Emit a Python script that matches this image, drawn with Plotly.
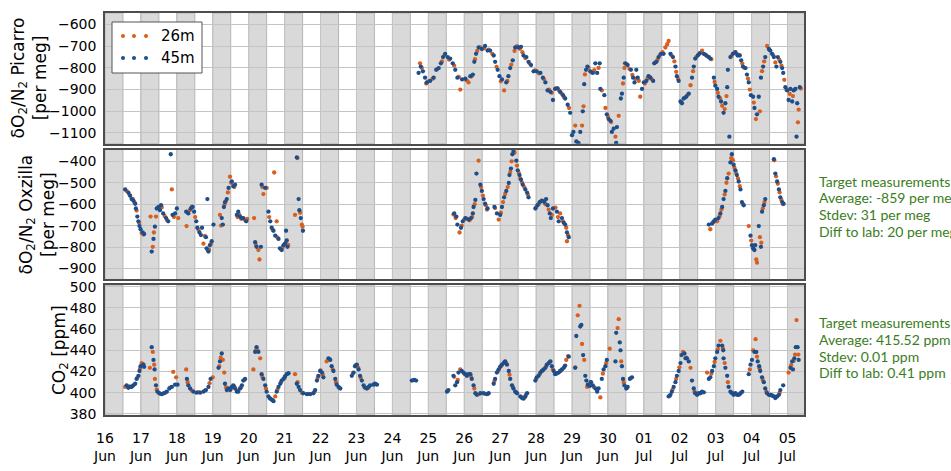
import pandas as pd
import plotly.graph_objects as go
from plotly.subplots import make_subplots

START = pd.Timestamp("2017-06-16")

# ---------------- tick labels ----------------
day_labels = ["16", "17", "18", "19", "20", "21", "22", "23", "24", "25", "26", "27", "28", "29", "30",
              "01", "02", "03", "04", "05"]
month_labels = ["Jun"] * 15 + ["Jul"] * 5

# ---------------- data (time in days since 16 Jun 00:00) ----------------
# Panel 1: dO2/N2 Picarro [per meg]
pic45_t = [8.73, 8.79, 8.85, 8.91, 8.96, 9.05, 9.15, 9.22, 9.29, 9.35, 9.41, 9.47, 9.54, 9.61, 9.68, 9.75, 9.81,
           9.94, 10.03, 10.17, 10.24, 10.28, 10.33, 10.40, 10.49, 10.58, 10.65, 10.72, 10.82, 10.86, 10.93, 10.98,
           11.05, 11.17, 11.23, 11.28, 11.35, 11.42, 11.51, 11.58, 11.65, 11.73, 11.79, 11.86, 11.93, 12.02, 12.12,
           12.19, 12.26, 12.32, 12.40, 12.47, 12.53, 12.60, 12.67, 12.75, 12.81, 12.88, 12.95, 13.00, 13.04, 13.12,
           13.18, 13.23, 13.30, 13.34, 13.39, 13.43, 13.51, 13.58, 13.65, 13.70, 13.77, 13.79, 13.90, 13.97, 14.02,
           14.07, 14.11, 14.16, 14.23, 14.25, 14.36, 14.39, 14.44, 14.48, 14.55, 14.64, 14.70, 14.74, 14.79, 14.83,
           14.95, 15.00, 15.07, 15.13, 15.18, 15.26, 15.29, 15.35, 15.41, 15.48, 15.55, 15.74, 15.81, 15.88, 15.92,
           15.97, 16.02, 16.06, 16.11, 16.18, 16.25, 16.34, 16.39, 16.43, 16.50, 16.56, 16.67, 16.74, 16.81, 16.85,
           16.95, 16.99, 17.04, 17.08, 17.15, 17.22, 17.27, 17.32, 17.34, 17.38, 17.41, 17.48, 17.55, 17.61, 17.67,
           17.71, 17.76, 17.83, 17.87, 17.92, 17.98, 18.04, 18.08, 18.15, 18.20, 18.26, 18.32, 18.38, 18.48, 18.52,
           18.57, 18.62, 18.69, 18.73, 18.80, 18.85, 18.88, 18.94, 18.99, 19.03, 19.08, 19.13, 19.17, 19.22, 19.25,
           19.27, 19.34]
pic45_v = [-823, -794, -816, -845, -867, -860, -845, -809, -801, -779, -750, -735, -750, -757, -779, -809, -845,
           -853, -850, -838, -831, -772, -735, -706, -713, -699, -720, -720, -743, -772, -809, -838,
           -853, -867, -838, -801, -765, -706, -706, -703, -743, -750, -772, -787, -816, -816, -823,
           -845, -867, -904, -911, -948, -897, -894, -911, -926, -941, -970, -1007, -1110, -1095, -1139,
           -1146, -1095, -1000, -875, -809, -794, -816, -823, -779, -823, -779, -897, -926, -1014, -1036,
           -1044, -1095, -1080, -1146, -1073, -941, -919, -845, -779, -787, -809, -845, -867, -809, -845,
           -897, -867, -860, -838, -845, -860, -779, -772, -750, -735, -735, -735, -750, -794, -838,
           -860, -955, -963, -941, -933, -919, -845, -794, -757, -743, -732, -735, -743, -750, -757,
           -845, -882, -897, -933, -955, -1007, -963, -889, -809, -1117, -750, -735, -728, -743, -743,
           -765, -794, -801, -831, -867, -926, -933, -985, -1014, -933, -845, -794, -750, -713, -720,
           -735, -750, -794, -750, -772, -801, -823, -889, -904, -948, -897, -955, -904, -897, -1117,
           -963, -889]

pic26_t = [8.77, 8.82, 8.94, 9.00, 9.12, 9.25, 9.38, 9.45, 9.58, 9.72, 9.85, 9.89, 10.07, 10.12, 10.20, 10.30,
           10.36, 10.45, 10.55, 10.68, 10.78, 10.90, 11.02, 11.11, 11.20, 11.31, 11.40, 11.47, 11.55, 11.62, 11.70,
           11.82, 11.97, 12.08, 12.22, 12.36, 12.44, 12.56, 12.64, 12.71, 12.78, 12.92, 13.09, 13.28, 13.32, 13.36,
           13.46, 13.54, 13.62, 13.74, 13.83, 13.93, 14.00, 14.09, 14.21, 14.30, 14.42, 14.46, 14.52, 14.60, 14.68,
           14.77, 14.86, 14.90, 15.03, 15.10, 15.16, 15.22, 15.32, 15.38, 15.45, 15.52, 15.60, 15.65, 15.69, 15.77,
           15.85, 15.90, 15.95, 16.04, 16.14, 16.21, 16.30, 16.37, 16.46, 16.53, 16.62, 16.70, 16.78, 16.88, 16.97,
           17.06, 17.12, 17.18, 17.25, 17.30, 17.44, 17.52, 17.58, 17.64, 17.74, 17.80, 17.90, 17.95, 18.06, 18.12,
           18.23, 18.29, 18.35, 18.43, 18.50, 18.60, 18.66, 18.77, 18.83, 18.91, 18.97, 19.06, 19.15, 19.20, 19.29,
           19.31, 19.37]
pic26_v = [-779, -800, -872, -862, -850, -805, -770, -742, -762, -790, -842, -900, -858, -867, -840, -760,
           -722, -705, -710, -716, -735, -795, -862, -904, -860, -785, -722, -700, -712, -728, -755,
           -780, -812, -825, -852, -900, -915, -893, -905, -918, -935, -985, -1066, -1066, -977, -830,
           -800, -820, -810, -800, -904, -985, -1025, -1050, -1117, -1021, -872, -800, -782, -805, -832,
           -850, -860, -933, -872, -850, -842, -852, -775, -762, -740, -728, -706, -691, -676, -742,
           -770, -818, -850, -958, -938, -926, -880, -815, -750, -738, -720, -738, -748, -760, -865,
           -915, -940, -975, -990, -930, -745, -730, -735, -740, -780, -800, -850, -900, -960, -1036,
           -1000, -815, -770, -699, -718, -742, -775, -762, -790, -855, -900, -920, -930, -900, -1051,
           -992, -895]

# Panel 2: dO2/N2 Oxzilla [per meg]
oxz45_t = [0.56, 0.65, 0.70, 0.74, 0.79, 0.84, 0.86, 0.90, 0.93, 0.96, 0.99, 1.05, 1.09, 1.30, 1.35, 1.39, 1.44,
           1.49, 1.53, 1.56, 1.62, 1.70, 1.76, 1.83, 1.88, 1.95, 2.00, 2.26, 2.32, 2.39, 2.44, 2.48, 2.54, 2.57,
           2.63, 2.67, 2.70, 2.81, 2.83, 2.85, 2.88, 2.92, 2.97, 3.02, 3.25, 3.28, 3.31, 3.34, 3.39, 3.44, 3.53,
           3.57, 3.62, 3.67, 3.71, 3.76, 3.81, 3.85, 3.93, 4.18, 4.22, 4.34, 4.36, 4.46, 4.55, 4.60, 4.64, 4.69,
           4.74, 4.83, 4.87, 4.92, 4.97, 5.01, 5.04, 5.06, 5.08, 5.34, 5.39, 5.41, 5.45, 5.51,
           9.72, 9.78, 9.81, 9.91, 9.96, 10.03, 10.12, 10.19, 10.24, 10.26, 10.31, 10.34, 10.45, 10.49, 10.54,
           10.58, 10.65, 10.84, 10.91, 11.00, 11.05, 11.11, 11.17, 11.24, 11.26, 11.30, 11.34, 11.37, 11.45,
           11.49, 11.54, 11.58, 11.63, 11.70, 11.75, 11.79, 11.98, 12.04, 12.10, 12.16, 12.23, 12.28, 12.32,
           12.38, 12.41, 12.47, 12.58, 12.63, 12.72, 12.77, 12.81, 12.86, 12.91,
           16.81, 16.90, 16.95, 16.99, 17.08, 17.13, 17.18, 17.22, 17.27, 17.32, 17.41, 17.45, 17.50, 17.55,
           17.59, 17.64, 17.69, 17.73, 17.78, 17.97, 18.01, 18.04, 18.08, 18.10, 18.20, 18.26, 18.29, 18.34,
           18.38, 18.62, 18.66, 18.71, 18.76, 18.80, 18.85, 18.89]
oxz45_v = [-531, -546, -561, -576, -583, -598, -620, -658, -680, -702, -717, -732, -739, -821, -762, -705, -620,
           -613, -628, -605, -643, -665, -680, -367, -650, -643, -620, -635, -643, -620, -613, -635, -680, -710,
           -732, -744, -710, -754, -806, -576, -821, -791, -773, -695, -665, -695, -613, -590, -576, -524, -494,
           -516, -509, -650, -635, -658, -665, -665, -680, -777, -799, -799, -509, -524, -635, -680, -710, -724,
           -747, -762, -806, -814, -791, -784, -724, -769, -799, -382, -576, -628, -665, -724,
           -643, -658, -695, -710, -680, -665, -672, -665, -643, -613, -580, -457, -509, -538, -576,
           -598, -620, -613, -643, -650, -613, -568, -538, -501, -464, -434, -367, -352, -397,
           -442, -464, -486, -509, -531, -546, -568, -620, -605, -590, -583, -590, -576, -605,
           -643, -665, -620, -635, -680, -665, -687, -695, -732, -754,
           -695, -690, -680, -672, -665, -643, -613, -576, -538, -479, -405, -367, -416, -442,
           -464, -494, -531, -590, -605, -747, -791, -806, -814, -791, -702, -799, -635, -605,
           -576, -390, -457, -494, -531, -568, -590, -598]

oxz26_t = [0.60, 0.68, 0.77, 0.82, 0.88, 0.95, 1.02, 1.07, 1.27, 1.33, 1.36, 1.42, 1.51, 1.58, 1.66, 1.73, 1.86,
           1.92, 2.04, 2.27, 2.30, 2.36, 2.42, 2.51, 2.60, 2.74, 2.78, 2.86, 2.90, 2.95, 3.20, 3.23, 3.33, 3.37,
           3.42, 3.48, 3.51, 3.60, 3.69, 3.74, 3.79, 3.88, 3.96, 4.15, 4.20, 4.27, 4.30, 4.38, 4.41, 4.50, 4.57,
           4.67, 4.71, 4.78, 4.80, 4.90, 4.95, 5.03, 5.10, 5.29, 5.36, 5.43, 5.48, 5.50,
           9.70, 9.76, 9.87, 9.93, 10.00, 10.08, 10.15, 10.22, 10.29, 10.40, 10.47, 10.52, 10.60, 10.63, 10.86,
           10.96, 11.02, 11.08, 11.14, 11.21, 11.28, 11.32, 11.40, 11.47, 11.52, 11.56, 11.61, 11.67, 11.77,
           12.00, 12.07, 12.13, 12.20, 12.26, 12.35, 12.44, 12.54, 12.61, 12.67, 12.75, 12.84, 12.86, 12.89,
           16.85, 16.93, 17.04, 17.11, 17.16, 17.25, 17.30, 17.36, 17.43, 17.48, 17.52, 17.57, 17.62, 17.67,
           17.75, 17.92, 17.99, 18.06, 18.13, 18.15, 18.23, 18.27, 18.31, 18.36, 18.63, 18.68, 18.73, 18.78,
           18.83, 18.87]
oxz26_v = [-538, -555, -575, -592, -630, -688, -735, -742, -658, -799, -732, -658, -618, -615, -655, -675, -531,
           -660, -665, -702, -640, -628, -612, -660, -720, -784, -748, -815, -812, -785, -650, -700, -600, -585,
           -545, -472, -500, -520, -660, -650, -668, -672, -669, -665, -790, -814, -858, -520, -553, -524, -660,
           -720, -452, -680, -755, -810, -800, -780, -790, -650, -385, -640, -695, -705,
           -648, -665, -732, -700, -672, -668, -675, -660, -600, -397, -520, -560, -605, -625, -618,
           -672, -640, -590, -552, -520, -450, -400, -360, -420, -455, -480, -500, -520, -555,
           -615, -600, -588, -585, -600, -625, -650, -616, -660, -643, -680, -710, -773, -745,
           -717, -685, -680, -655, -625, -555, -500, -457, -385, -395, -430, -455, -480, -516,
           -598, -702, -770, -810, -858, -873, -754, -780, -620, -590, -395, -470, -505, -545,
           -580, -600]

# Panel 3: CO2 [ppm]
co45_t = [0.60, 0.65, 0.70, 0.74, 0.79, 0.84, 0.88, 0.93, 0.96, 0.99, 1.07, 1.09, 1.30, 1.35, 1.38, 1.42, 1.46,
          1.51, 1.58, 1.64, 1.72, 1.79, 1.86, 1.95, 2.02, 2.28, 2.32, 2.37, 2.46, 2.55, 2.65, 2.74, 2.81, 2.88,
          2.94, 3.16, 3.20, 3.25, 3.34, 3.39, 3.44, 3.48, 3.53, 3.57, 3.62, 3.67, 3.71, 3.76, 3.81, 3.85, 3.90,
          4.18, 4.22, 4.27, 4.36, 4.41, 4.46, 4.50, 4.55, 4.60, 4.64, 4.69, 4.78, 4.83, 4.88, 4.92, 4.97, 5.01,
          5.06, 5.11, 5.34, 5.39, 5.43, 5.52, 5.62, 5.71, 5.80, 5.85, 5.90, 5.94, 5.99, 6.04, 6.08, 6.22, 6.27,
          6.31, 6.36, 6.41, 6.45, 6.50, 6.55, 6.87, 6.92, 6.96, 7.01, 7.06, 7.10, 7.15, 7.20, 7.24, 7.29, 7.34,
          7.38, 7.47, 7.52, 7.57, 8.54, 8.61, 8.66, 9.52, 9.56, 9.70, 9.75, 9.80, 9.84, 9.93, 9.98, 10.03, 10.07,
          10.12, 10.17, 10.21, 10.26, 10.31, 10.35, 10.45, 10.54, 10.63, 10.68, 10.82, 10.86, 10.91, 10.96,
          11.00, 11.05, 11.10, 11.14, 11.19, 11.24, 11.28, 11.33, 11.37, 11.42, 11.47, 11.56, 11.61, 11.65,
          11.70, 11.75, 11.98, 12.02, 12.07, 12.12, 12.16, 12.21, 12.26, 12.30, 12.35, 12.40, 12.44, 12.49,
          12.53, 12.58, 12.63, 12.67, 12.72, 12.77, 12.81, 12.91, 13.09, 13.12, 13.23, 13.26, 13.31, 13.37,
          13.40, 13.44, 13.49, 13.53, 13.58, 13.65, 13.70, 13.74, 13.83, 13.88, 13.93, 13.97, 14.21, 14.23,
          14.33, 14.35, 14.39, 14.42, 14.46, 14.51, 14.55, 14.61, 14.67, 15.69, 15.74, 15.78, 15.83, 15.88,
          15.92, 15.97, 16.02, 16.05, 16.13, 16.16, 16.20, 16.25, 16.34, 16.39, 16.43, 16.48, 16.53, 16.57,
          16.62, 16.67, 16.81, 16.85, 16.90, 16.95, 16.99, 17.04, 17.08, 17.18, 17.21, 17.22, 17.27, 17.32,
          17.36, 17.41, 17.46, 17.50, 17.55, 17.60, 17.64, 17.69, 17.74, 17.92, 17.97, 18.01, 18.08, 18.13,
          18.17, 18.21, 18.24, 18.29, 18.34, 18.38, 18.43, 18.48, 18.52, 18.57, 18.62, 18.66, 18.71, 18.76,
          18.80, 18.88, 19.08, 19.13, 19.15, 19.19, 19.23, 19.28, 19.31]
co45_v = [407, 404.6, 405.5, 405.5, 407, 408.5, 413, 416, 420.5, 425, 426.5, 424.4, 443, 431, 422, 407, 401,
          399.5, 398.6, 399.5, 401, 404, 405.5, 407.6, 407.6, 413, 407, 404, 401, 400.1, 400.1, 401, 402.5, 405.5,
          413, 423.5, 429.5, 437, 408.5, 402.5, 404, 402.5, 405.5, 407, 404, 401, 401, 404, 407, 411.5, 413,
          438.5, 443, 438.5, 417.5, 413, 407, 401, 396.5, 394.4, 393.5, 392, 401, 405.5, 408.5, 411.5, 413, 415.4,
          417.5, 418.4, 408.5, 405.5, 402.5, 399.5, 398.6, 398.6, 399.5, 402.5, 411.5, 416, 420.5, 419, 414.5, 432.5, 431,
          425, 420.5, 413, 407.6, 405.5, 404, 416, 419, 425, 426.5, 422, 416, 411.5, 407, 404.6, 404, 405.5,
          407, 407.6, 408.5, 407.6, 411.5, 412.1, 411.5, 401, 402.5, 416, 407, 410, 419, 420.5, 419, 417.5, 416,
          417.5, 417.5, 413, 407, 399.5, 398, 399.5, 399.5, 398.6, 399.5, 408.5, 413, 419, 422,
          424.4, 426.5, 428, 429.5, 426.5, 420.5, 413, 407, 404, 401, 399.5, 396.5, 395, 394.4,
          396.5, 399.5, 411.5, 414.5, 416, 419, 420.5, 422, 423.5, 426.5, 428, 429.5, 425, 420.5,
          417.5, 418.4, 419, 420.5, 422, 423.5, 425.6, 434, 423.5, 453.5, 462.5, 464, 435.5, 416,
          411.5, 407.6, 406.4, 410, 407, 404, 401, 404, 413, 422, 425, 431, 429.5, 456.5,
          447.5, 440, 425, 413, 407, 404, 405.5, 413, 414.5, 396.5, 398, 401, 405.5, 410,
          416, 420.5, 428, 435.5, 437, 432.5, 432.5, 429.5, 411.5, 404, 399.5, 398, 399.5, 399.5,
          401, 400.4, 413, 414.5, 420.5, 425, 432.5, 438.5, 444.5, 444.5, 440, 432.5, 423.5, 416,
          405.5, 401, 399.5, 398, 399.5, 398, 398, 399.5, 401, 417.5, 426.5, 431, 438.5, 438.5,
          429.5, 425, 420.5, 414.5, 410, 404, 399.5, 398, 398, 397.4, 396.5, 395, 396.5, 398,
          402.5, 407, 423.5, 429.5, 422, 432.5, 443, 443, 431]

co26_t = [0.56, 0.67, 0.77, 0.90, 0.98, 1.02, 1.05, 1.25, 1.33, 1.37, 1.39, 1.44, 1.54, 1.68, 1.82, 1.90, 1.98,
          2.26, 2.30, 2.42, 2.60, 2.78, 2.91, 3.00, 3.18, 3.22, 3.28, 3.32, 3.37, 3.50, 3.60, 3.69, 3.79, 3.88,
          4.13, 4.20, 4.25, 4.32, 4.38, 4.48, 4.58, 4.67, 4.74, 4.80, 4.90, 5.00, 5.08, 5.29, 5.36, 5.48, 5.66,
          5.83, 5.92, 6.00, 6.06, 6.17, 6.25, 6.34, 6.43, 6.52, 6.90, 6.98, 7.04, 7.12, 7.22, 7.32, 7.50, 8.58,
          9.54, 9.72, 9.82, 9.89, 10.00, 10.10, 10.19, 10.28, 10.40, 10.58, 10.66, 10.84, 10.94, 11.02, 11.12,
          11.17, 11.26, 11.35, 11.44, 11.58, 11.68, 11.72, 12.00, 12.10, 12.19, 12.28, 12.38, 12.47, 12.56,
          12.70, 12.79, 12.84, 12.89, 13.09, 13.16, 13.21, 13.28, 13.34, 13.42, 13.51, 13.60, 13.79, 13.86,
          13.95, 14.05, 14.27, 14.30, 14.37, 14.44, 14.53, 14.64, 15.72, 15.80, 15.90, 15.99, 16.09, 16.18,
          16.30, 16.41, 16.50, 16.60, 16.76, 16.88, 16.97, 17.06, 17.13, 17.20, 17.25, 17.34, 17.44, 17.57,
          17.67, 17.95, 18.04, 18.11, 18.15, 18.22, 18.31, 18.41, 18.55, 18.68, 18.78, 19.03, 19.10, 19.17,
          19.21, 19.25, 19.30]
co26_v = [405.5, 406, 406.5, 414, 423, 428, 427, 423.5, 438.5, 426.5, 413, 403, 399, 400, 405, 419.6, 414.5,
          422, 410, 402, 400.5, 402, 409, 414.5, 425, 433, 431, 419, 405, 403, 406, 402, 405, 412,
          422, 440, 440, 432.5, 415, 404, 395, 393, 396.5, 403, 410, 414, 418, 417.5, 410, 400, 399,
          401, 414, 421, 417, 429.5, 432, 422, 410, 404.5, 418, 426, 424, 414, 405.5, 404.5, 408, 411.8,
          402, 415, 412, 422, 418, 416.5, 415, 404, 398.5, 399, 399, 411, 420.5, 425, 429,
          428, 417, 405.5, 400.5, 396, 395.5, 398, 413, 417.5, 421, 425, 429, 422, 418,
          421, 424.5, 431, 434.6, 424, 473, 482, 446, 431, 405.5, 410, 405.5, 395.6, 418,
          428, 441.5, 461, 469.4, 429.5, 410, 404.5, 414, 397, 403, 413, 424, 438.5, 433,
          423.5, 401, 398.5, 400, 419, 418, 429, 441, 449, 442, 428, 410, 400, 398.5,
          398.5, 422, 440, 450.5, 434, 423, 412, 401, 397.5, 396, 400, 419, 426, 430,
          436, 468.5, 436]

# right-hand text boxes
target_o2 = ["Target measurements", "Average: -859 per meg", "Stdev: 31 per meg", "Diff to lab: 20 per meg"]
target_co2 = ["Target measurements", "Average: 415.52 ppm", "Stdev: 0.01 ppm", "Diff to lab: 0.41 ppm"]

# ---------------- styling ----------------
C26 = "#d95f1f"
C45 = "#1c4e8c"
GREEN = "#3b7d23"
FONT = "DejaVu Sans"
N_DAYS = 20
X_END = START + pd.Timedelta(hours=19 * 24 + 11)
PLOT_H = 471 - 7 - 43


def to_time(days):
    return START + pd.to_timedelta(days, unit="D")


def py(pix):
    """paper y from a pixel row of the figure"""
    return (471 - 43 - pix) / PLOT_H


fig = make_subplots(rows=3, cols=1, shared_xaxes=True, vertical_spacing=0.01)

panels = [
    (1, pic26_t, pic26_v, pic45_t, pic45_v),
    (2, oxz26_t, oxz26_v, oxz45_t, oxz45_v),
    (3, co26_t, co26_v, co45_t, co45_v),
]
for row, t26, v26, t45, v45 in panels:
    fig.add_trace(go.Scatter(x=to_time(t26), y=v26, mode="markers", name="26m", showlegend=False,
                             marker=dict(color=C26, size=4.3, line=dict(width=0))), row=row, col=1)
    fig.add_trace(go.Scatter(x=to_time(t45), y=v45, mode="markers", name="45m", showlegend=False,
                             marker=dict(color=C45, size=4.3, line=dict(width=0))), row=row, col=1)

# night shading (00:00 - 12:00 each day)
shapes = []
for suffix in ["", "2", "3"]:
    for k in range(N_DAYS):
        d0 = START + pd.Timedelta(days=k)
        shapes.append(dict(type="rect", xref="x" + suffix, yref="y" + suffix + " domain",
                           x0=d0, x1=d0 + pd.Timedelta(hours=12), y0=0, y1=1,
                           fillcolor="#d9d9d9", line=dict(color="#b5b5b5", width=1), layer="below"))

# legend (manual, matplotlib-like with 3 points)
shapes.append(dict(type="rect", xref="paper", yref="paper", xsizemode="pixel", ysizemode="pixel",
                   xanchor=0, yanchor=1, x0=7, x1=97, y0=-9, y1=-60,
                   fillcolor="white", line=dict(color="#555555", width=1), layer="above"))
for ypix, col in [(-23, C26), (-45, C45)]:
    for xpix in [18, 29, 41]:
        shapes.append(dict(type="circle", xref="paper", yref="paper", xsizemode="pixel", ysizemode="pixel",
                           xanchor=0, yanchor=1, x0=xpix - 2, x1=xpix + 2, y0=ypix - 2, y1=ypix + 2,
                           fillcolor=col, line=dict(width=0), layer="above"))

annotations = [
    dict(text="26m", xref="paper", yref="paper", x=0, y=1, xshift=73, yshift=-23, showarrow=False,
         xanchor="center", yanchor="middle", font=dict(family=FONT, size=15, color="black")),
    dict(text="45m", xref="paper", yref="paper", x=0, y=1, xshift=73, yshift=-45, showarrow=False,
         xanchor="center", yanchor="middle", font=dict(family=FONT, size=15, color="black")),
]

dom_top = [py(144), 1.0]
dom_mid = [py(286), py(150)]
dom_bot = [0.0, py(292)]

# y-axis titles
annotations += [
    dict(text="δO<sub>2</sub>/N<sub>2</sub> Picarro<br>[per meg]", xref="paper", yref="paper", x=0,
         y=sum(dom_top) / 2, xshift=-76, textangle=-90, showarrow=False, xanchor="center", yanchor="middle",
         font=dict(family=FONT, size=17, color="black")),
    dict(text="δO<sub>2</sub>/N<sub>2</sub> Oxzilla<br>[per meg]", xref="paper", yref="paper", x=0,
         y=sum(dom_mid) / 2, xshift=-68, textangle=-90, showarrow=False, xanchor="center", yanchor="middle",
         font=dict(family=FONT, size=17, color="black")),
    dict(text="CO<sub>2</sub> [ppm]", xref="paper", yref="paper", x=0,
         y=sum(dom_bot) / 2, xshift=-45, textangle=-90, showarrow=False, xanchor="center", yanchor="middle",
         font=dict(family=FONT, size=17, color="black")),
]

# green target-measurement boxes, one annotation per line
for lines, rows in [(target_o2, [183, 200.5, 218, 235.5]), (target_co2, [331, 348.5, 366.5, 384])]:
    for txt, ypix in zip(lines, rows):
        annotations.append(dict(text=txt, xref="paper", yref="paper", x=1, xshift=712 - 699, y=py(ypix),
                                xanchor="left", yanchor="middle", align="left", showarrow=False,
                                font=dict(family="Lato", size=14, color=GREEN)))

tickvals = [START + pd.Timedelta(days=k) for k in range(N_DAYS)]
ticktext = [f"{d}<br>{m}" for d, m in zip(day_labels, month_labels)]

axis_common = dict(showline=True, mirror=True, linecolor="#4d4d4d", linewidth=1.5,
                   showgrid=True, gridcolor="#c4c4c4", gridwidth=1, zeroline=False, ticks="")
for key in ["xaxis", "xaxis2", "xaxis3"]:
    fig.layout[key].update(range=[START, X_END], tickvals=tickvals, ticktext=ticktext,
                           showticklabels=(key == "xaxis3"), tickangle=0, ticklabelstandoff=9,
                           tickfont=dict(family=FONT, size=14, color="black"), **axis_common)

fig.layout.yaxis.update(domain=dom_top, range=[-1150, -547], tickvals=[-1100, -1000, -900, -800, -700, -600],
                        **axis_common)
fig.layout.yaxis2.update(domain=dom_mid, range=[-951, -345], tickvals=[-900, -800, -700, -600, -500, -400],
                         **axis_common)
fig.layout.yaxis3.update(domain=dom_bot, range=[379, 501.5], tickvals=[380, 400, 420, 440, 460, 480, 500],
                         **axis_common)
for key in ["yaxis", "yaxis2", "yaxis3"]:
    fig.layout[key].update(tickfont=dict(family=FONT, size=14, color="black"), ticklabelstandoff=4)

fig.update_layout(
    width=951, height=471,
    margin=dict(l=105, r=147, t=7, b=43),
    paper_bgcolor="white", plot_bgcolor="white",
    shapes=shapes, annotations=annotations,
    showlegend=False,
    font=dict(family=FONT, color="black"),
)

fig.write_html("out.html", config={"displayModeBar": False},
               post_script="document.body.style.margin='0';document.body.style.overflow='hidden';")
